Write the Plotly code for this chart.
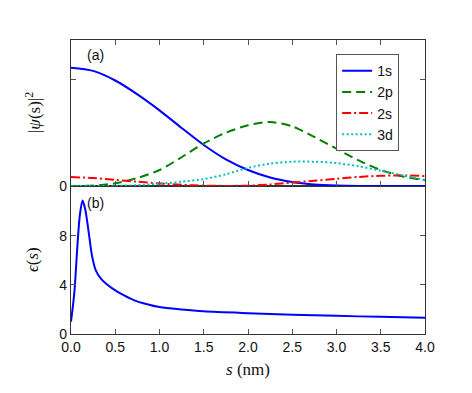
import plotly.graph_objects as go

# ---- data ----
s_grid = [0.0, 0.25, 0.5, 0.75, 1.0, 1.25, 1.5, 1.75, 2.0, 2.25, 2.5, 2.75, 3.0, 3.25, 3.5, 3.75, 4.0]
psi_1s = [1.11, 1.08, 0.99, 0.86, 0.71, 0.545, 0.385, 0.25, 0.15, 0.08, 0.038, 0.015, 0.005, 0.001, 0.0, 0.0, 0.0]
psi_2p = [0.0, 0.004, 0.025, 0.075, 0.15, 0.27, 0.40, 0.50, 0.57, 0.60, 0.56, 0.46, 0.35, 0.24, 0.15, 0.09, 0.055]
psi_2s = [0.084, 0.075, 0.058, 0.040, 0.024, 0.011, 0.004, 0.001, 0.003, 0.015, 0.032, 0.050, 0.068, 0.085, 0.096, 0.099, 0.094]
psi_3d = [0.0, 0.0, 0.002, 0.008, 0.022, 0.040, 0.065, 0.11, 0.17, 0.21, 0.228, 0.228, 0.215, 0.185, 0.143, 0.10, 0.056]

s_eps = [0.0, 0.038, 0.075, 0.10, 0.13, 0.16, 0.20, 0.237, 0.28, 0.34, 0.47, 0.6, 0.715, 0.85, 1.0, 1.25, 1.5, 2.0, 2.5, 3.0, 3.5, 4.0]
eps = [1.0, 3.4, 7.5, 9.7, 10.9, 10.2, 8.3, 6.4, 5.2, 4.5, 3.7, 3.15, 2.75, 2.45, 2.2, 2.0, 1.85, 1.7, 1.58, 1.48, 1.4, 1.33]

x_ticks = [0.0, 0.5, 1.0, 1.5, 2.0, 2.5, 3.0, 3.5, 4.0]
x_ticklabels = ["0.0", "0.5", "1.0", "1.5", "2.0", "2.5", "3.0", "3.5", "4.0"]
eps_ticks = [0, 4, 8]

# ---- figure ----
fig = go.Figure()
styles = [
    ("1s", psi_1s, "#0000ff", "solid"),
    ("2p", psi_2p, "#008000", "9px,5px"),
    ("2s", psi_2s, "#ff0000", "9px,3px,2px,3px"),
    ("3d", psi_3d, "#00bfbf", "2px,2.5px"),
]
for name, vals, col, dash in styles:
    fig.add_trace(go.Scatter(x=s_grid, y=vals, name=name, mode="lines",
                             line=dict(color=col, width=2, dash=dash, shape="spline", smoothing=0.8),
                             xaxis="x2", yaxis="y2"))

fig.add_trace(go.Scatter(x=s_eps, y=eps, mode="lines", showlegend=False,
                         line=dict(color="#0000ff", width=2, shape="spline", smoothing=0.8),
                         xaxis="x", yaxis="y"))

axis_common = dict(showline=True, linecolor="#333333", linewidth=1.3, ticks="inside",
                   ticklen=5, tickcolor="#555555", tickwidth=1, showgrid=False, zeroline=False,
                   tickfont=dict(family="Liberation Sans Narrow, Liberation Sans, Arial", size=14, color="#111"))

split = 148 / 294
fig.update_layout(
    width=472, height=393,
    # the page adds an 8px body margin, so shift the plot area up/left by 8px
    margin=dict(l=63, r=55, t=32, b=67),
    paper_bgcolor="white", plot_bgcolor="white",
    xaxis=dict(**axis_common, range=[0, 4], tickvals=x_ticks, ticktext=x_ticklabels,
               mirror=True, anchor="y", domain=[0, 1]),
    yaxis=dict(**axis_common, range=[0, 12.08], tickvals=eps_ticks, mirror="ticks",
               domain=[0, split], anchor="x"),
    xaxis2=dict(**axis_common, range=[0, 4], tickvals=x_ticks, showticklabels=False,
                mirror="ticks", anchor="y2", matches="x"),
    yaxis2=dict(**axis_common, range=[0, 1.37], tickvals=[0, 1], ticktext=["0", " "],
                mirror="ticks", domain=[split, 1], anchor="x2"),
    legend=dict(x=0.749, y=0.952, xanchor="left", yanchor="top",
                bordercolor="#555555", borderwidth=1, bgcolor="white",
                font=dict(family="Liberation Sans, Arial", size=14, color="#111"),
                tracegroupgap=0),
    showlegend=True,
)

serif = dict(family="Liberation Serif, Times New Roman, serif", size=17, color="#111")
sans = dict(family="Liberation Sans, Arial", size=14, color="#111")
fig.add_annotation(x=-0.107, y=0.752, xref="paper", yref="paper", text="|<i>ψ</i>(s)|<sup>2</sup>",
                   textangle=-90, showarrow=False, font=serif, xanchor="center", yanchor="middle")
fig.add_annotation(x=-0.107, y=0.252, xref="paper", yref="paper", text="<i>ϵ</i>(<i>s</i>)",
                   textangle=-90, showarrow=False, font=serif, xanchor="center", yanchor="middle")
fig.add_annotation(x=0.5, y=-0.122, xref="paper", yref="paper", text="<i>s</i> (nm)",
                   showarrow=False, font=serif, xanchor="center", yanchor="middle")
fig.add_annotation(x=0.040, y=0.949, xref="paper", yref="paper", text="(a)",
                   showarrow=False, font=sans, xanchor="left", yanchor="middle")
fig.add_annotation(x=0.040, y=0.446, xref="paper", yref="paper", text="(b)",
                   showarrow=False, font=sans, xanchor="left", yanchor="middle")

fig.write_html("out.html")
